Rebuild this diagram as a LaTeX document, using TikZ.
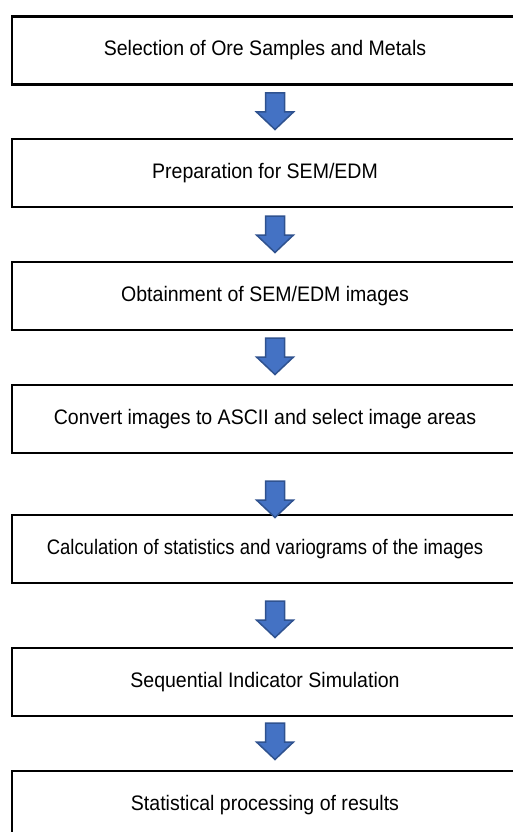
\documentclass[tikz,border=0pt]{standalone}
\usepackage{fontspec}
\setmainfont{Liberation Sans}
\newfontfamily\boxfont[FakeStretch=0.93]{Liberation Sans}
\definecolor{arrowfill}{HTML}{4472C4}
\definecolor{arrowline}{HTML}{2F528F}
\tikzset{
  stepbox/.style={draw=black, line width=2.5pt, fill=white, minimum width=506pt, minimum height=68pt,
    inner sep=0pt, font=\boxfont\fontsize{21}{24}\selectfont, anchor=center},
  darrow/.pic={
    \path[fill=arrowfill, draw=arrowline, line width=1.5pt, line join=miter]
      (-9.5,0) -- (9.5,0) -- (9.5,19) -- (18.5,19) -- (0,36.5) -- (-18.5,19) -- (-9.5,19) -- cycle;
  }
}
\begin{document}
\begin{tikzpicture}[x=1pt,y=-1pt]
\useasboundingbox (0,0) rectangle (512,832);
\node[stepbox] (b1) at (265,50.5) {Selection of Ore Samples and Metals};
\node[stepbox] (b2) at (265,173) {Preparation for SEM/EDM};
\node[stepbox] (b3) at (265,296) {Obtainment of SEM/EDM images};
\node[stepbox] (b4) at (265,419) {Convert images to ASCII and select image areas};
\node[stepbox] (b5) at (265,549) {\scalebox{0.946}[1]{Calculation of statistics and variograms of the images}};
\node[stepbox] (b6) at (265,682) {Sequential Indicator Simulation};
\node[stepbox] (b7) at (265,805) {Statistical processing of results};
\pic at (275,93) {darrow};
\pic at (275,216) {darrow};
\pic at (275,338) {darrow};
\pic at (275,481) {darrow};
\pic at (275,601) {darrow};
\pic at (275,723) {darrow};
\end{tikzpicture}
\end{document}
